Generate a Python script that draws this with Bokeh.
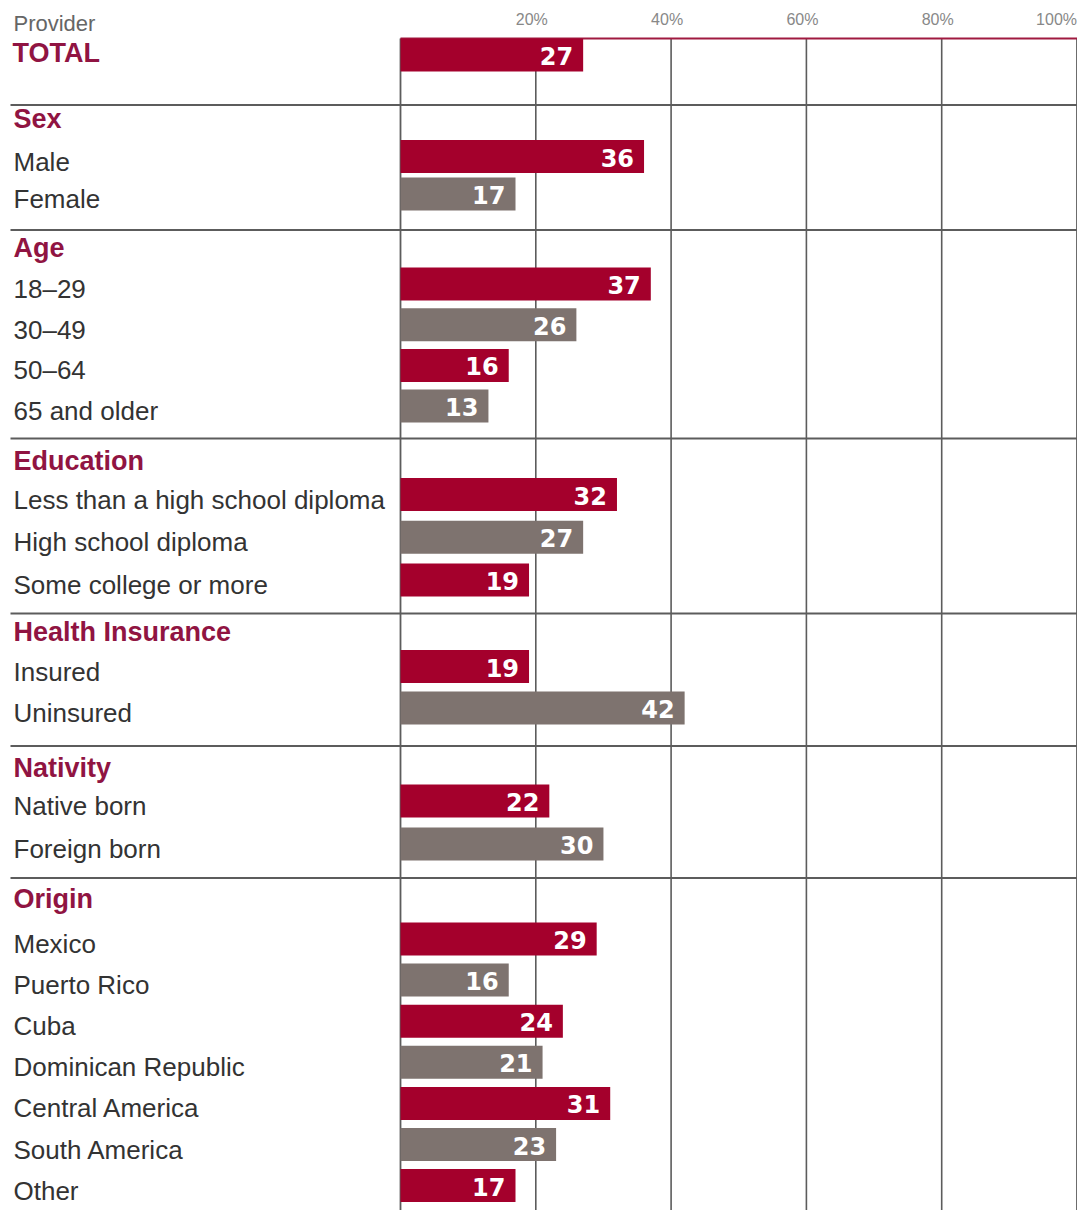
from bokeh.plotting import figure
from bokeh.models import ColumnDataSource, Range1d
from bokeh.core.properties import value
from bokeh.embed import file_html
from bokeh.resources import INLINE

# ---------------- data ----------------
TITLE = "Provider"
TOTAL_LABEL = "TOTAL"
TOTAL_VALUE = 27

GROUPS = ["Sex", "Age", "Education", "Health Insurance", "Nativity", "Origin"]

SEX_LABELS = ["Male", "Female"]
SEX_VALUES = [36, 17]

AGE_LABELS = ["18–29", "30–49", "50–64", "65 and older"]
AGE_VALUES = [37, 26, 16, 13]

EDU_LABELS = ["Less than a high school diploma", "High school diploma", "Some college or more"]
EDU_VALUES = [32, 27, 19]

INS_LABELS = ["Insured", "Uninsured"]
INS_VALUES = [19, 42]

NAT_LABELS = ["Native born", "Foreign born"]
NAT_VALUES = [22, 30]

ORIGIN_LABELS = ["Mexico", "Puerto Rico", "Cuba", "Dominican Republic",
                 "Central America", "South America", "Other"]
ORIGIN_VALUES = [29, 16, 24, 21, 31, 23, 17]

TICKS = [20, 40, 60, 80, 100]

GROUP_LABELS = [SEX_LABELS, AGE_LABELS, EDU_LABELS, INS_LABELS, NAT_LABELS, ORIGIN_LABELS]
GROUP_VALUES = [SEX_VALUES, AGE_VALUES, EDU_VALUES, INS_VALUES, NAT_VALUES, ORIGIN_VALUES]

# ---------------- layout / style ----------------
W, H = 1077, 1210
ZERO_PX, FULL_PX = 400.0, 1076.5
K = (FULL_PX - ZERO_PX) / 100.0


def px_x(px):
    return (px - ZERO_PX) / K


TOP_Y = 38
TOTAL_Y = 54.5
GAP_TO_FIRST = [101.5, 90, 88.5, 86.5, 93, 95]
PITCH = [37.5, 40.7, 42.7, 41.5, 43, 41.1]
HEADER_ABOVE = [37.5, 36, 34, 35, 33, 40]
SEP_ABOVE_HEADER = [14, 18, 22, 18, 22, 21]
BAR_H = 33
LABEL_DY = 5

RED = "#a4002c"
GREY = "#7e736f"
HEAD = "#901442"
TXT = "#333333"
LINE = "#5c5c5c"
FONT = "Liberation Sans"

# compute rows
bar_y, bar_v, bar_c = [TOTAL_Y], [TOTAL_VALUE], [RED]
hdr_y, hdr_t, sep_y = [], [], []
item_y, item_t = [], []
cursor = TOTAL_Y
for g, name in enumerate(GROUPS):
    first = cursor + GAP_TO_FIRST[g]
    hy = first - HEADER_ABOVE[g]
    hdr_y.append(hy)
    hdr_t.append(name)
    sep_y.append(hy - SEP_ABOVE_HEADER[g])
    for i, (lab, v) in enumerate(zip(GROUP_LABELS[g], GROUP_VALUES[g])):
        y = first + i * PITCH[g]
        bar_y.append(y)
        bar_v.append(v)
        bar_c.append(RED if i % 2 == 0 else GREY)
        item_y.append(y + LABEL_DY)
        item_t.append(lab)
        cursor = y

bars = ColumnDataSource(dict(y=bar_y, v=bar_v, c=bar_c,
                             t=[str(v) for v in bar_v],
                             ty=[y + 1 for y in bar_y]))

p = figure(width=W, height=H,
           x_range=Range1d(px_x(0), px_x(W)),
           y_range=Range1d(H, 0),
           output_backend="svg", toolbar_location=None,
           x_axis_location=None, y_axis_location=None,
           min_border=0, outline_line_color=None,
           background_fill_color="white", border_fill_color="white")
p.xgrid.visible = False
p.ygrid.visible = False

bottom = H + 5

# grid lines and frame
p.segment(x0=TICKS[:-1], y0=[TOP_Y] * 4, x1=TICKS[:-1], y1=[bottom] * 4,
          line_color=LINE, line_width=1.6)
p.segment(x0=[0, 100], y0=[TOP_Y, TOP_Y], x1=[0, 100], y1=[bottom, bottom],
          line_color=LINE, line_width=1.8)
p.segment(x0=[px_x(10)] * len(sep_y), y0=sep_y, x1=[100] * len(sep_y), y1=sep_y,
          line_color=LINE, line_width=2)
p.segment(x0=[0], y0=[TOP_Y], x1=[100], y1=[TOP_Y], line_color="#a01a40", line_width=2)

# bars
p.hbar(y="y", left=0, right="v", height=BAR_H, fill_color="c", line_color=None, source=bars)
p.text(x="v", y="ty", text="t", source=bars, x_offset=-10,
       text_align="right", text_baseline="middle", text_color="white",
       text_font=value("DejaVu Sans"), text_font_style="bold", text_font_size="24px")

# left labels
p.text(x=[px_x(13)] * len(item_y), y=item_y, text=item_t,
       text_align="left", text_baseline="middle", text_color=TXT,
       text_font=value(FONT), text_font_size="26px")
p.text(x=[px_x(13)] * len(hdr_y), y=hdr_y, text=hdr_t,
       text_align="left", text_baseline="middle", text_color=HEAD,
       text_font=value(FONT), text_font_style="bold", text_font_size="27px")
p.text(x=[px_x(12)], y=[TOTAL_Y - 2], text=[TOTAL_LABEL],
       text_align="left", text_baseline="middle", text_color=HEAD,
       text_font=value(FONT), text_font_style="bold", text_font_size="27px")

# title at the top-left
p.text(x=[px_x(13)], y=[23], text=[TITLE],
       text_align="left", text_baseline="alphabetic", text_color="#666666",
       text_font=value(FONT), text_font_size="22px")

# tick labels
tick_txt = [f"{t}%" for t in TICKS]
p.text(x=TICKS[:-1], y=[18.5] * 4, text=tick_txt[:-1], x_offset=-4,
       text_align="center", text_baseline="middle", text_color="#888888",
       text_font=value(FONT), text_font_size="16px")
p.text(x=TICKS[-1:], y=[18.5], text=tick_txt[-1:], x_offset=0,
       text_align="right", text_baseline="middle", text_color="#888888",
       text_font=value(FONT), text_font_size="16px")

open("out.html", "w").write(file_html(p, INLINE))
